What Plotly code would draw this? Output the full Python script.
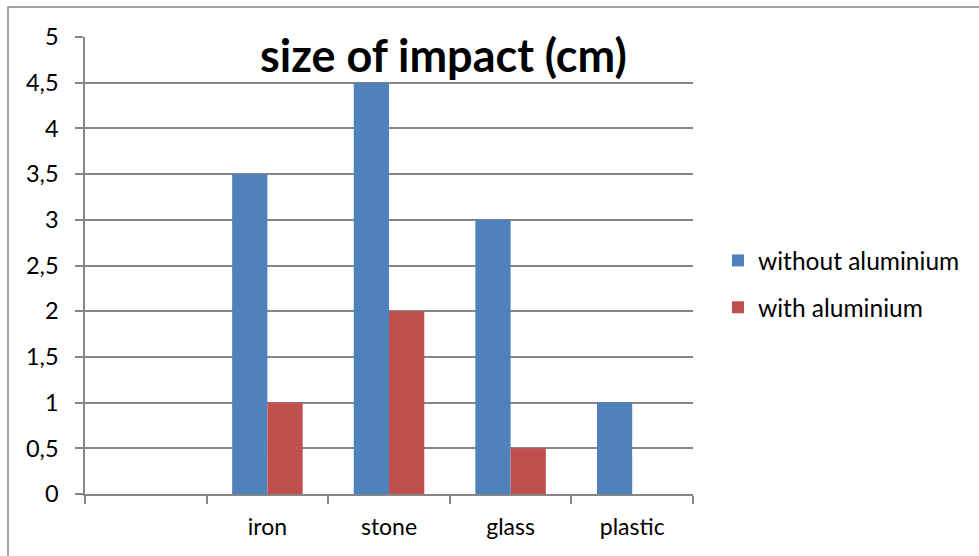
import plotly.graph_objects as go

# Impact sizes (cm) per projectile material
categories = [" ", "iron", "stone", "glass", "plastic"]
without_aluminium = [None, 3.5, 4.5, 3.0, 1.0]
with_aluminium = [None, 1.0, 2.0, 0.5, 0.0]
y_ticks = [0, 0.5, 1, 1.5, 2, 2.5, 3, 3.5, 4, 4.5, 5]

FONT = "Lato"
GRID = "#868686"

fig = go.Figure()
fig.add_trace(go.Bar(x=categories, y=without_aluminium, name="without aluminium",
                     marker=dict(color="#4F81BD", line=dict(width=0)),
                     legendgroup="a"))
fig.add_trace(go.Bar(x=categories, y=with_aluminium, name="with aluminium",
                     marker=dict(color="#C0504D", line=dict(width=0)),
                     legendgroup="b"))

W, H = 979, 556
L, R, T, B = 85, 286, 37, 62
pw, ph = W - L - R, H - T - B

def px_x(p):
    return (p - L) / pw

def px_y(p):
    return (H - B - p) / ph

fig.update_layout(
    width=W, height=H,
    margin=dict(l=L, r=R, t=T, b=B, autoexpand=False),
    paper_bgcolor="white", plot_bgcolor="white",
    separators=",.",
    barmode="group", bargap=0.42, bargroupgap=0,
    font=dict(family=FONT, size=23, color="#000000"),
    showlegend=True,
    legend=dict(x=px_x(718), y=px_y(284), xanchor="left", yanchor="middle",
                font=dict(family=FONT, size=24.5, color="#000000"),
                tracegroupgap=12, itemwidth=30, bgcolor="rgba(0,0,0,0)"),
    xaxis=dict(type="category", categoryorder="array", categoryarray=categories,
               showline=True, linecolor=GRID, linewidth=1.5,
               ticks="outside", tickson="boundaries", ticklen=8,
               tickcolor=GRID, tickwidth=1.5, ticklabelstandoff=12,
               tickfont=dict(family=FONT, size=23, color="#000000"),
               showgrid=False, fixedrange=True),
    yaxis=dict(range=[0, 5], tickvals=y_ticks,
               showline=True, linecolor=GRID, linewidth=1.5,
               ticks="outside", ticklen=8, tickcolor=GRID, tickwidth=1.5,
               ticklabelstandoff=12,
               showgrid=True, gridcolor=GRID, gridwidth=1.5,
               zeroline=False,
               tickfont=dict(family=FONT, size=23.5, color="#000000"),
               fixedrange=True),
    annotations=[dict(text="<b>size of impact (cm)</b>", xref="paper", yref="paper",
                      x=px_x(443), y=px_y(55), xanchor="center", yanchor="middle",
                      showarrow=False, font=dict(family=FONT, size=45, color="#000000"))],
    shapes=[dict(type="rect", xref="paper", yref="paper", layer="below",
                 x0=px_x(8), x1=px_x(1000), y0=px_y(600), y1=px_y(7),
                 line=dict(color=GRID, width=1.5), fillcolor="rgba(0,0,0,0)")],
)

fig.write_html("out.html")
